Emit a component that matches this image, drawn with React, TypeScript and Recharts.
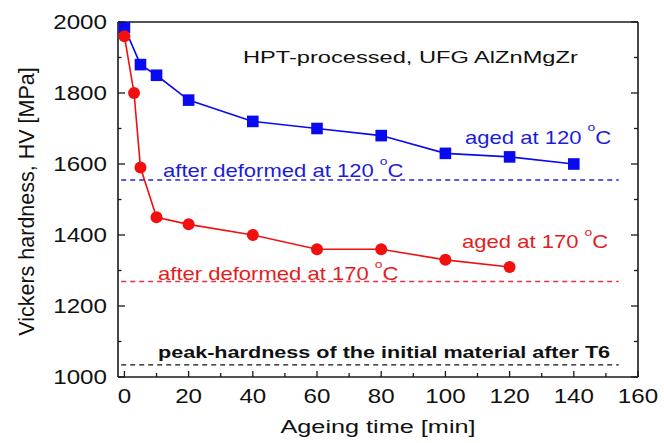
import React from "react";
import { LineChart, Line, XAxis, YAxis, ReferenceLine } from "recharts";

// ---- data ----
const blueTimes = [0, 5, 10, 20, 40, 60, 80, 100, 120, 140];
const blueHV = [1985, 1880, 1850, 1780, 1720, 1700, 1680, 1630, 1620, 1600];
const redTimes = [0, 3, 5, 10, 20, 40, 60, 80, 100, 120];
const redHV = [1960, 1800, 1590, 1450, 1430, 1400, 1360, 1360, 1330, 1310];
const level120 = 1555;
const level170 = 1269;
const levelT6 = 1034;
const refStart = -1;
const refEnd = 154;
const xTicks = [0, 10, 20, 30, 40, 50, 60, 70, 80, 90, 100, 110, 120, 130, 140, 150, 160];
const yTicks = [1000, 1100, 1200, 1300, 1400, 1500, 1600, 1700, 1800, 1900, 2000];

const blueData = blueTimes.map((t, i) => ({ t, hv: blueHV[i] }));
const redData = redTimes.map((t, i) => ({ t, hv: redHV[i] }));

const FONT = '"Liberation Sans", Arial, sans-serif';
const AXIS = "#1a1a1a";
const BLUE = "#0a0af0";
const RED = "#f01010";
const BLUE_TXT = "#1c1cd6";
const RED_TXT = "#e41c1c";

const SText = ({ x, y, size, sx = 1, anchor = "start", fill = "#111", weight = "normal", children }: any) => (
  <text
    transform={`translate(${x},${y}) scale(${sx},1)`}
    x={0}
    y={0}
    fontSize={size}
    textAnchor={anchor}
    fill={fill}
    fontWeight={weight}
    fontFamily={FONT}
  >
    {children}
  </text>
);

const Deg = ({ temp }: any) => (
  <>
    {temp + " "}
    <tspan fontSize={11} dy={-12.5}>o</tspan>
    <tspan dy={12.5}>C</tspan>
  </>
);

const BottomTick = (props: any) => {
  const { x, y, payload } = props;
  const v = payload.value;
  const major = v % 20 === 0;
  return (
    <g>
      <line x1={x} x2={x} y1={y} y2={y - (major ? 6 : 4)} stroke={AXIS} strokeWidth={1.3} />
      {major && (
        <SText x={x} y={y + 26} size={19.5} sx={1.24} anchor="middle">
          {v}
        </SText>
      )}
    </g>
  );
};

const TopTick = (props: any) => {
  const { x, y, payload } = props;
  const major = payload.value % 20 === 0;
  return <line x1={x} x2={x} y1={y} y2={y + (major ? 7 : 3.5)} stroke={AXIS} strokeWidth={1.3} />;
};

const LeftTick = (props: any) => {
  const { x, y, payload } = props;
  const v = payload.value;
  const major = v % 200 === 0;
  return (
    <g>
      <line x1={x} x2={x + (major ? 7 : 3.5)} y1={y} y2={y} stroke={AXIS} strokeWidth={1.3} />
      {major && (
        <SText x={x - 11} y={y + 7} size={19.5} sx={1.24} anchor="end">
          {v}
        </SText>
      )}
    </g>
  );
};

const RightTick = (props: any) => {
  const { x, y, payload } = props;
  const major = payload.value % 200 === 0;
  return <line x1={x} x2={x - (major ? 7 : 4)} y1={y} y2={y} stroke={AXIS} strokeWidth={1.3} />;
};

const Square = (props: any) => {
  const { cx, cy, index } = props;
  if (cx == null || cy == null) return <g key={index} />;
  return <rect key={index} x={cx - 5.8} y={cy - 5.8} width={11.6} height={11.6} fill={BLUE} />;
};

export default function App() {
  return (
    <div style={{ position: "absolute", left: 0, top: 0, width: 664, height: 443, background: "#fff" }}>
      <LineChart width={664} height={443} margin={{ top: 12, right: 16, bottom: 0, left: 0 }}>
        <XAxis
          xAxisId="b"
          type="number"
          dataKey="t"
          orientation="bottom"
          domain={[-2, 160]}
          ticks={xTicks}
          interval={0}
          height={66}
          tickSize={0}
          tickMargin={0}
          tickLine={false}
          axisLine={{ stroke: AXIS, strokeWidth: 1.6 }}
          tick={BottomTick}
          allowDataOverflow
        />
        <XAxis
          xAxisId="top"
          type="number"
          orientation="top"
          domain={[-2, 160]}
          ticks={xTicks}
          interval={0}
          height={10}
          tickSize={0}
          tickMargin={0}
          tickLine={false}
          axisLine={{ stroke: AXIS, strokeWidth: 1.6 }}
          tick={TopTick}
          allowDataOverflow
        />
        <YAxis
          yAxisId="l"
          type="number"
          orientation="left"
          domain={[1000, 2000]}
          ticks={yTicks}
          interval={0}
          width={118}
          tickSize={0}
          tickMargin={0}
          tickLine={false}
          axisLine={{ stroke: AXIS, strokeWidth: 1.6 }}
          tick={LeftTick}
          allowDataOverflow
        />
        <YAxis
          yAxisId="r"
          type="number"
          orientation="right"
          domain={[1000, 2000]}
          ticks={yTicks}
          interval={0}
          width={10}
          tickSize={0}
          tickMargin={0}
          tickLine={false}
          axisLine={{ stroke: AXIS, strokeWidth: 1.6 }}
          tick={RightTick}
          allowDataOverflow
        />
        <ReferenceLine
          xAxisId="b"
          yAxisId="l"
          segment={[{ x: refStart, y: level120 }, { x: refEnd, y: level120 }]}
          stroke="#2424e0"
          strokeWidth={1.3}
          strokeDasharray="5 4"
        />
        <ReferenceLine
          xAxisId="b"
          yAxisId="l"
          segment={[{ x: refStart, y: level170 }, { x: refEnd, y: level170 }]}
          stroke="#e83048"
          strokeWidth={1.3}
          strokeDasharray="5 4"
        />
        <ReferenceLine
          xAxisId="b"
          yAxisId="l"
          segment={[{ x: refStart, y: levelT6 }, { x: refEnd, y: levelT6 }]}
          stroke="#111"
          strokeWidth={1.3}
          strokeDasharray="5 4"
        />
        <Line
          xAxisId="b"
          yAxisId="l"
          data={blueData}
          dataKey="hv"
          type="linear"
          stroke={BLUE}
          strokeWidth={1.6}
          dot={Square}
          activeDot={false}
          isAnimationActive={false}
        />
        <Line
          xAxisId="b"
          yAxisId="l"
          data={redData}
          dataKey="hv"
          type="linear"
          stroke={RED}
          strokeWidth={1.6}
          dot={{ r: 6, fill: RED, stroke: RED, strokeWidth: 0 }}
          activeDot={false}
          isAnimationActive={false}
        />
      </LineChart>
      <svg
        width={664}
        height={443}
        style={{ position: "absolute", left: 0, top: 0, pointerEvents: "none" }}
      >
        <SText x={243} y={63} size={17} sx={1.39}>HPT-processed, UFG AlZnMgZr</SText>
        <SText x={465} y={143.5} size={17.5} sx={1.26} fill={BLUE_TXT}>
          aged at <Deg temp="120" />
        </SText>
        <SText x={163} y={177} size={17.5} sx={1.26} fill={BLUE_TXT}>
          after deformed at <Deg temp="120" />
        </SText>
        <SText x={462} y={248} size={17.5} sx={1.26} fill={RED_TXT}>
          aged at <Deg temp="170" />
        </SText>
        <SText x={158} y={280} size={17.5} sx={1.26} fill={RED_TXT}>
          after deformed at <Deg temp="170" />
        </SText>
        <SText x={158} y={358} size={17} sx={1.27} weight="bold" fill="#111">
          peak-hardness of the initial material after T6
        </SText>
        <SText x={378} y={433} size={19} sx={1.33} anchor="middle">
          Ageing time [min]
        </SText>
        <text
          transform="translate(33.5,201.5) rotate(-90)"
          fontSize={21.5}
          textAnchor="middle"
          fontFamily={FONT}
          fill="#111"
        >
          Vickers hardness, HV [MPa]
        </text>
      </svg>
    </div>
  );
}
